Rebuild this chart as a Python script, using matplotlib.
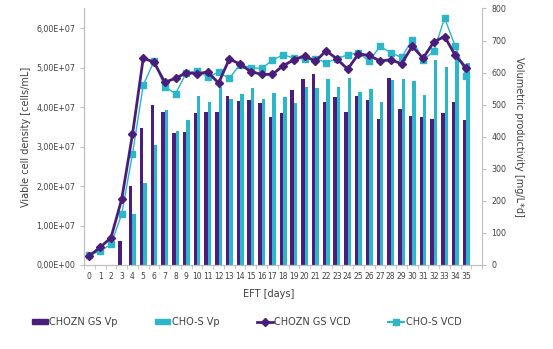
import matplotlib
matplotlib.use('Agg')
import matplotlib.pyplot as plt
from matplotlib.ticker import FuncFormatter, MultipleLocator
from matplotlib.lines import Line2D
from matplotlib.patches import Patch
import numpy as np

plt.rcParams['font.family'] = ['DejaVu Sans']

days = np.arange(36)

# volumetric productivity [mg/L*d], right axis
chozn_vp = [np.nan, np.nan, np.nan, 74, 245, 427, 499, 477, 411, 416,
            475, 477, 477, 527, 512, 514, 504, 460, 473, 545,
            579, 597, 508, 525, 476, 526, 514, 456, 583, 488,
            466, 460, 456, 473, 508, 451]
chos_vp = [np.nan, np.nan, np.nan, np.nan, 159, 255, 374, 484, 418, 452,
           526, 507, 554, 517, 533, 552, 517, 535, 523, 506,
           554, 551, 581, 554, 584, 539, 548, 509, 576, 581,
           574, 530, 639, 617, 650, 630]

# viable cell density [cells/mL], left axis
chozn_vcd = [2.3e6, 4.5e6, 6.9e6, 1.67e7, 3.31e7, 5.24e7, 5.14e7, 4.63e7, 4.73e7, 4.87e7,
             4.85e7, 4.89e7, 4.61e7, 5.22e7, 5.09e7, 4.90e7, 4.83e7, 4.83e7, 5.05e7, 5.20e7,
             5.30e7, 5.16e7, 5.43e7, 5.22e7, 4.96e7, 5.35e7, 5.31e7, 5.17e7, 5.20e7, 5.10e7,
             5.54e7, 5.24e7, 5.65e7, 5.79e7, 5.31e7, 5.00e7]
chos_vcd = [2.5e6, 3.6e6, 5.2e6, 1.29e7, 2.81e7, 4.56e7, 5.16e7, 4.52e7, 4.34e7, 4.87e7,
            4.91e7, 4.77e7, 4.88e7, 4.73e7, 5.08e7, 5.00e7, 4.98e7, 5.19e7, 5.33e7, 5.24e7,
            5.22e7, 5.23e7, 5.13e7, 5.22e7, 5.33e7, 5.37e7, 5.17e7, 5.54e7, 5.38e7, 5.26e7,
            5.71e7, 5.20e7, 5.41e7, 6.26e7, 5.54e7, 4.79e7]

purple = '#4a1d7c'
cyan = '#2bb6ca'
grey = '#bfbfbf'
txt = '#404040'

fig = plt.figure(figsize=(5.53, 3.49), dpi=100)
ax = fig.add_axes([0.152, 0.2407, 0.72, 0.735])
ax2 = ax.twinx()

# bars on the productivity axis
w = 0.32
ax2.bar(days - w / 2, chozn_vp, w, color=purple, zorder=1)
ax2.bar(days + w / 2, chos_vp, w, color=cyan, zorder=1)
ax2.set_ylim(0, 800)
ax2.yaxis.set_major_locator(MultipleLocator(100))

# lines on the cell density axis, drawn above the bars
ax.set_zorder(ax2.get_zorder() + 1)
ax.patch.set_visible(False)
ax.plot(days, chos_vcd, color=cyan, lw=1, marker='s', ms=4.5, zorder=3)
ax.plot(days, chozn_vcd, color=purple, lw=2, marker='D', ms=4, zorder=4)
ax.set_ylim(0, 6.5e7)
ax.yaxis.set_major_locator(MultipleLocator(1e7))
ax.yaxis.set_major_formatter(FuncFormatter(lambda v, p: ('%.2E' % v).replace('.', ',')))

ax.set_xlim(-0.5, 36.5)
ax.set_xticks(days)
ax.set_xticks(np.arange(-0.5, 37, 1), minor=True)
ax.tick_params(axis='x', which='major', length=0, labelsize=5.5, colors=txt, pad=5)
ax.tick_params(axis='x', which='minor', length=3, color=grey)

for a in (ax, ax2):
    for s in a.spines.values():
        s.set_color(grey)
    a.spines['top'].set_visible(False)
    a.tick_params(axis='y', length=3, color=grey, labelsize=5.7, labelcolor=txt)
ax.spines['right'].set_visible(False)

ax.set_ylabel('Viable cell density [cells/mL]', fontsize=7, color=txt, labelpad=4)
ax2.set_ylabel('Volumetric productivity [mg/L*d]', fontsize=7, color=txt, rotation=270, labelpad=13)
fig.text(269 / 553, 1 - 294 / 349, 'EFT [days]', fontsize=7, color=txt, ha='center', va='center')

handles = [Patch(color=purple), Patch(color=cyan),
           Line2D([], [], color=purple, lw=2, marker='D', ms=4),
           Line2D([], [], color=cyan, lw=1.5, marker='s', ms=4)]
labels = ['CHOZN GS Vp', 'CHO-S Vp', 'CHOZN GS VCD', 'CHO-S VCD']
fig.legend(handles, labels, loc='center', bbox_to_anchor=(0.446, 1 - 322 / 349), ncol=4,
           frameon=False, fontsize=7, labelcolor=txt, handlelength=1.6, handleheight=0.5,
           handletextpad=0.2, columnspacing=3.8)

fig.savefig('out.png', dpi=100)
